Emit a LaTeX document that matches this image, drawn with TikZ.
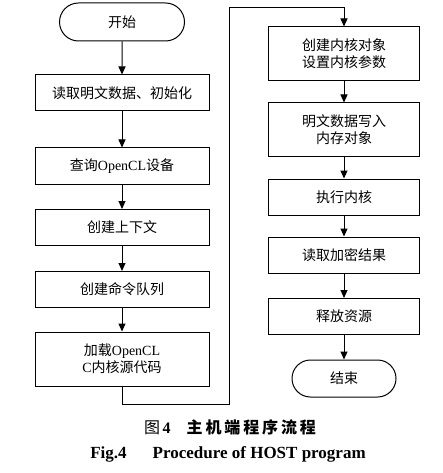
\documentclass[tikz,border=0pt]{standalone}
\usepackage{fontspec}
\setmainfont{Liberation Serif}
\newfontfamily\cjk{Noto Sans CJK SC}
\newfontfamily\cjkcap[LetterSpace=18]{Noto Sans CJK SC}
\usetikzlibrary{shapes.misc,arrows.meta}
\newcommand{\zh}[1]{{\cjk #1}}

\begin{document}
\begin{tikzpicture}
  [x=1pt,y=-1pt,line width=1pt,>={Triangle[length=8pt,width=7pt]},
   every node/.style={font=\fontsize{14}{17}\selectfont,align=center,inner sep=2pt},
   procbox/.style={draw=black,rectangle,minimum height=36pt},
   leftbox/.style={procbox,minimum width=174pt},
   rightbox/.style={procbox,minimum width=151pt},
   terminal/.style={draw=black,rounded rectangle,minimum height=38pt}]
  \useasboundingbox (0,0) rectangle (443,473);

  % left column
  \node (start) at (122,22) [terminal,minimum width=129pt] {\zh{开始}};
  \node (b1) at (122,93) [leftbox] {\zh{读取明文数据、初始化}};
  \node (b2) at (122,166) [leftbox] {\zh{查询}OpenCL\zh{设备}};
  \node (b3) at (122,227.5) [leftbox] {\zh{创建上下文}};
  \node (b4) at (122,289.5) [leftbox] {\zh{创建命令队列}};
  \node (b5) at (122,359) [leftbox,minimum height=54pt] {\zh{加载}OpenCL\\C\zh{内核源代码}};

  % right column
  \node (b6) at (344,54) [rightbox,minimum height=54pt] {\zh{创建内核对象}\\\zh{设置内核参数}};
  \node (b7) at (344,130) [rightbox,minimum height=54pt] {\zh{明文数据写入}\\\zh{内存对象}};
  \node (b8) at (344,197) [rightbox] {\zh{执行内核}};
  \node (b9) at (344,255) [rightbox] {\zh{读取加密结果}};
  \node (b10) at (344,316.5) [rightbox] {\zh{释放资源}};
  \node (end) at (344,378.5) [terminal,minimum width=108pt,minimum height=37pt] {\zh{结束}};

  \foreach \from/\to in {start/b1, b1/b2, b2/b3, b3/b4, b4/b5, b6/b7, b7/b8, b8/b9, b9/b10, b10/end}
    \draw[->] (\from) -- (\to);

  \coordinate (loopA) at (229,404);
  \coordinate (loopB) at (229,8);
  \draw[->] (b5) |- (loopA) -- (loopB) -| (b6);

  % caption
  \node (cap1) at (230,427) [font=\fontsize{16}{19}\selectfont] {{\cjk 图}\,\textbf{4}\hspace{16pt}{\cjkcap\bfseries 主机端程序流程}};
  \node (cap2) at (228,454) [font=\fontsize{17}{20}\selectfont\bfseries] {Fig.4\hspace{26pt}Procedure of HOST program};
\end{tikzpicture}
\end{document}
